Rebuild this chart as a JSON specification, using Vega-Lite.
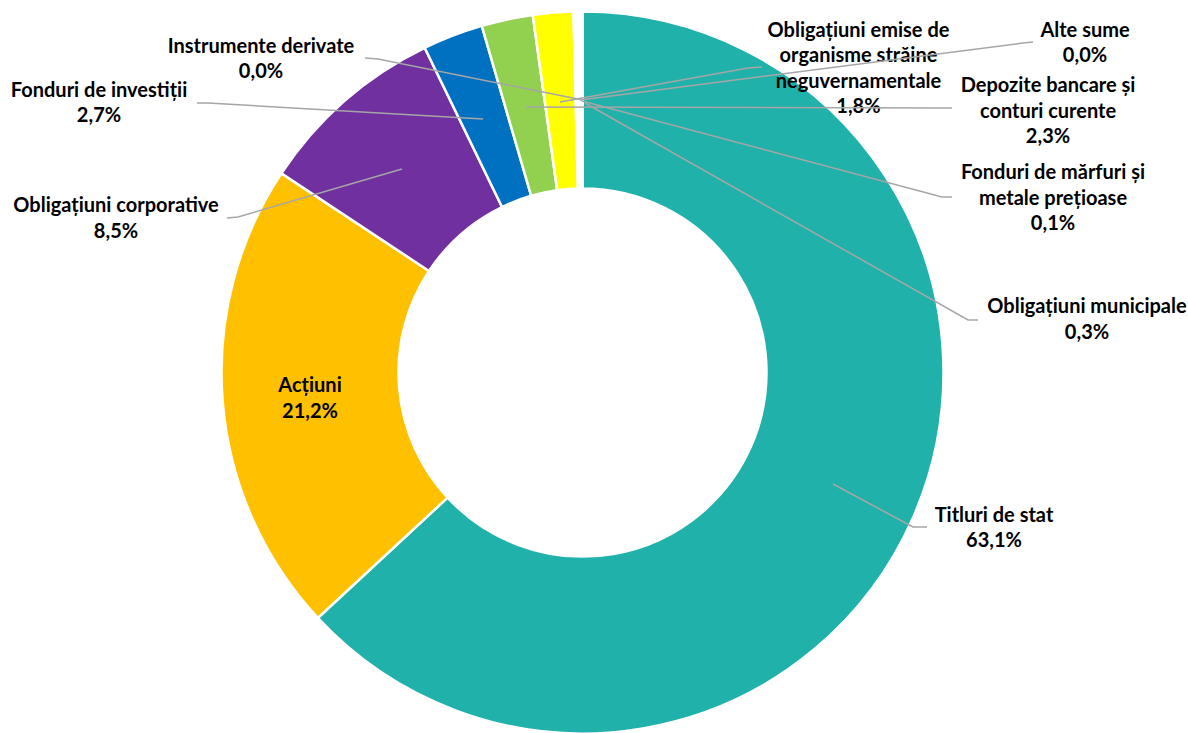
{
  "$schema": "https://vega.github.io/schema/vega-lite/v6.json",
  "width": 1188,
  "height": 745,
  "autosize": {"type": "none"},
  "padding": 0,
  "background": "white",
  "config": {"view": {"stroke": null}},
  "datasets": {
    "slices": [
      {"idx": 1, "name": "Titluri de stat", "value": 63.1},
      {"idx": 2, "name": "Acțiuni", "value": 21.2},
      {"idx": 3, "name": "Obligațiuni corporative", "value": 8.5},
      {"idx": 4, "name": "Fonduri de investiții", "value": 2.7},
      {"idx": 5, "name": "Depozite bancare și conturi curente", "value": 2.3},
      {"idx": 6, "name": "Obligațiuni emise de organisme străine neguvernamentale", "value": 1.8},
      {"idx": 7, "name": "Fonduri de mărfuri și metale prețioase", "value": 0.1},
      {"idx": 8, "name": "Obligațiuni municipale", "value": 0.3},
      {"idx": 9, "name": "Instrumente derivate", "value": 0.0},
      {"idx": 10, "name": "Alte sume", "value": 0.0}
    ],
    "labels": [
      {"name": "Titluri de stat", "text": "Titluri de stat\n63,1%", "lx": 1.1399, "ly": -0.3975},
      {"name": "Acțiuni", "text": "Acțiuni\n21,2%", "lx": -0.7548, "ly": -0.0374},
      {"name": "Obligațiuni corporative", "text": "Obligațiuni corporative\n8,5%", "lx": -1.2922, "ly": 0.4612},
      {"name": "Fonduri de investiții", "text": "Fonduri de investiții\n2,7%", "lx": -1.3393, "ly": 0.7798},
      {"name": "Depozite bancare și conturi curente", "text": "Depozite bancare și\nconturi curente\n2,3%", "lx": 1.2895, "ly": 0.7936},
      {"name": "Obligațiuni emise de organisme străine neguvernamentale", "text": "Obligațiuni emise de\norganisme străine\nneguvernamentale\n1,8%", "lx": 0.7645, "ly": 0.9460},
      {"name": "Fonduri de mărfuri și metale prețioase", "text": "Fonduri de mărfuri și\nmetale prețioase\n0,1%", "lx": 1.3033, "ly": 0.5526},
      {"name": "Obligațiuni municipale", "text": "Obligațiuni municipale\n0,3%", "lx": 1.3975, "ly": 0.1814},
      {"name": "Instrumente derivate", "text": "Instrumente derivate\n0,0%", "lx": -0.8906, "ly": 0.9017},
      {"name": "Alte sume", "text": "Alte sume\n0,0%", "lx": 1.3920, "ly": 0.9460}
    ],
    "leaders": [
      {"name": "Titluri de stat", "seq": 1, "px": 0.9543, "py": -0.4280},
      {"name": "Titluri de stat", "seq": 2, "px": 0.9155, "py": -0.4280},
      {"name": "Titluri de stat", "seq": 3, "px": 0.6939, "py": -0.3089},
      {"name": "Obligațiuni municipale", "seq": 1, "px": 1.0956, "py": 0.1454},
      {"name": "Obligațiuni municipale", "seq": 2, "px": 1.0679, "py": 0.1454},
      {"name": "Obligațiuni municipale", "seq": 3, "px": 0.0069, "py": 0.7465},
      {"name": "Fonduri de mărfuri și metale prețioase", "seq": 1, "px": 1.0235, "py": 0.4861},
      {"name": "Fonduri de mărfuri și metale prețioase", "seq": 2, "px": 0.9958, "py": 0.4861},
      {"name": "Fonduri de mărfuri și metale prețioase", "seq": 3, "px": -0.0014, "py": 0.7521},
      {"name": "Depozite bancare și conturi curente", "seq": 1, "px": 1.0235, "py": 0.7327},
      {"name": "Depozite bancare și conturi curente", "seq": 2, "px": 0.9903, "py": 0.7327},
      {"name": "Depozite bancare și conturi curente", "seq": 3, "px": -0.1565, "py": 0.7355},
      {"name": "Obligațiuni emise de organisme străine neguvernamentale", "seq": 1, "px": 0.4972, "py": 0.8463},
      {"name": "Obligațiuni emise de organisme străine neguvernamentale", "seq": 2, "px": 0.4584, "py": 0.8435},
      {"name": "Obligațiuni emise de organisme străine neguvernamentale", "seq": 3, "px": -0.0623, "py": 0.7493},
      {"name": "Alte sume", "seq": 1, "px": 1.2479, "py": 0.9155},
      {"name": "Alte sume", "seq": 2, "px": 1.2202, "py": 0.9127},
      {"name": "Alte sume", "seq": 3, "px": -0.0069, "py": 0.7548},
      {"name": "Instrumente derivate", "seq": 1, "px": -0.6025, "py": 0.8712},
      {"name": "Instrumente derivate", "seq": 2, "px": -0.5665, "py": 0.8684},
      {"name": "Instrumente derivate", "seq": 3, "px": 0.0014, "py": 0.7548},
      {"name": "Fonduri de investiții", "seq": 1, "px": -1.0679, "py": 0.7465},
      {"name": "Fonduri de investiții", "seq": 2, "px": -1.0374, "py": 0.7465},
      {"name": "Fonduri de investiții", "seq": 3, "px": -0.2756, "py": 0.7022},
      {"name": "Obligațiuni corporative", "seq": 1, "px": -0.9848, "py": 0.4280},
      {"name": "Obligațiuni corporative", "seq": 2, "px": -0.9543, "py": 0.4307},
      {"name": "Obligațiuni corporative", "seq": 3, "px": -0.5000, "py": 0.5637}
    ]
  },
  "layer": [
    {
      "data": {"name": "slices"},
      "mark": {"type": "arc", "outerRadius": 361, "innerRadius": 184, "stroke": "white", "strokeWidth": 2.5},
      "encoding": {
        "x": {"datum": 0, "type": "quantitative", "scale": {"domain": [-1.61357, 1.67729], "nice": false, "zero": false}, "axis": null},
        "y": {"datum": 0, "type": "quantitative", "scale": {"domain": [-1.03186, 1.03186], "nice": false, "zero": false}, "axis": null},
        "theta": {"field": "value", "type": "quantitative", "stack": true},
        "order": {"field": "idx", "type": "quantitative"},
        "color": {
          "field": "name",
          "type": "nominal",
          "legend": null,
          "scale": {
            "domain": ["Titluri de stat", "Acțiuni", "Obligațiuni corporative", "Fonduri de investiții", "Depozite bancare și conturi curente", "Obligațiuni emise de organisme străine neguvernamentale", "Fonduri de mărfuri și metale prețioase", "Obligațiuni municipale", "Instrumente derivate", "Alte sume"],
            "range": ["#20B2AA", "#FFC000", "#7030A0", "#0070C0", "#92D050", "#FFFF00", "#1F6F6B", "#FFFFFF", "#FFFFFF", "#FFFFFF"]
          }
        }
      }
    },
    {
      "data": {"name": "labels"},
      "mark": {"type": "text", "font": "Lato", "fontWeight": "bold", "fontSize": 20, "lineHeight": 25.5, "lineBreak": "\n", "align": "center", "baseline": "middle", "color": "#000000"},
      "encoding": {
        "x": {"field": "lx", "type": "quantitative", "axis": null},
        "y": {"field": "ly", "type": "quantitative", "axis": null},
        "text": {"field": "text", "type": "nominal"}
      }
    },
    {
      "data": {"name": "leaders"},
      "mark": {"type": "line", "color": "#A6A6A6", "strokeWidth": 1.5},
      "encoding": {
        "x": {"field": "px", "type": "quantitative", "axis": null},
        "y": {"field": "py", "type": "quantitative", "axis": null},
        "detail": {"field": "name", "type": "nominal"},
        "order": {"field": "seq", "type": "quantitative"}
      }
    }
  ]
}
